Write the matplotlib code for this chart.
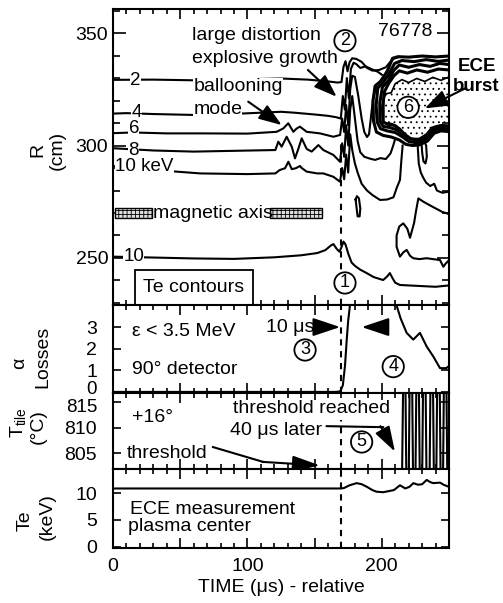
import numpy as np
import matplotlib
matplotlib.use('Agg')
import matplotlib.pyplot as plt
import matplotlib.transforms as mtransforms
from matplotlib.ticker import MultipleLocator, FixedLocator
from matplotlib.patches import Rectangle

plt.rcParams['font.family'] = ['Liberation Sans', 'DejaVu Sans']
plt.rcParams['font.size'] = 14
plt.rcParams['mathtext.fontset'] = 'custom'
plt.rcParams['mathtext.rm'] = 'Liberation Sans'
plt.rcParams['hatch.linewidth'] = 0.6
nan = np.nan

# ---- Te contours, R (cm) vs time (us) ----
c2_t = [0, 30, 60, 95, 125, 145, 160, 167, 170, 171.5, 173, 174.5, 176, 178, 181, 185, 189, 193, 198, 203, 206, 209, 213]
c2_R = [329.2, 329.3, 329.0, 329.4, 329.8, 329.3, 328.5, 328.0, 328.2, 335, 337.5, 333, 337, 338.8, 338.5, 337.2, 334.5, 333.3, 333.6, 334.8, 337.0, 338.6, 339.4]

c4_t = [0, 10, 30, 60, 95, 125, 135, 150, 160, 166, 169.5, 171, 172.5, 174, 175.5, 177, 179, 181, 184, 188, 193, 197, 200]
c4_R = [314.2, 314.4, 314.0, 313.6, 314.2, 315.0, 314.6, 313.8, 313.2, 312.6, 312.0, 322, 316, 330, 321, 334, 336.8, 336.2, 334.5, 335.2, 333.8, 332.8, 331.5]

c6_t = [0, 15, 40, 65, 100, 121.8, 126.7, 130.4, 134.2, 136.5, 139.1, 144.1, 154, 164, 169, 170.5, 172, 173.5, 175, 176.5,
        178, 180, 182.5, 185, 187, 189, 190.5, 192, 193.5, 195.5, 198]
c6_R = [305.5, 305.8, 305.4, 305.4, 305.3, 306.1, 307.6, 309.9, 306.1, 307.5, 308.4, 306.1, 305.4, 303.9, 304.7, 312, 306, 318, 309, 325,
        331, 330.5, 322, 312, 306, 303.8, 305, 313, 321, 325.5, 326.5]

c8_t = [0, 30, 60, 120.8, 123, 125.5, 129.2, 133, 135.4, 137.9, 140.4, 144.1, 147.8, 152.8, 156.5, 164, 168.9, 170.5, 172, 173.5,
        175, 176.5, 178, 180, 182, 184, 187, 191, 195, 199, 203, 206.5, 208.5, 210]
c8_R = [298.8, 297.8, 297.3, 298, 301.7, 299.5, 303.9, 299.5, 294.3, 298.5, 303.2, 298.5, 297.3, 300.2, 298, 295.8, 292.8, 301, 295, 309,
        300, 316, 322, 312, 302, 297, 295, 294.2, 293.6, 294.4, 294.0, 296.5, 300, 303]

c10_t = [0, 20, 45, 65, 100, 120.8, 124, 128, 130.5, 133, 136, 139.1, 140.4, 144.1, 152, 156.5, 164, 168.9, 170.5, 172, 173.5, 175,
         176.5, 178, 180, 182, 185, 189, 193, 198.7, 204, 208.7, 211, 213.5, 214.5, 215.5,
         nan, 226.5, 227.5, 229, 231, 233, 236, 239, 241, 245, 250]
c10_R = [290.8, 290.5, 288.5, 287.6, 287.3, 287.6, 289.1, 289.9, 292.8, 289.5, 289.9, 290.9, 290.0, 288.4, 287.6, 287.6, 286.1, 283.9, 290, 285, 296, 288,
         305, 298, 292, 288, 283, 280, 278, 275.8, 276, 277, 281, 284.7, 293, 300,
         nan, 302, 292, 288, 285.5, 283.5, 282, 283, 280, 279, 279.5]

inner_t = [250, 245, 238.3, 231, 227.2, 225.5, 224, 221, 219, 216, 213, 211, 211, 213.5, 216, 218.5, 221, 223.4, 228, 233.4, 238, 243.3, 245.8, 247.5, 250]
inner_R = [269.5, 270.5, 272.6, 275, 276.5, 271, 265.5, 259, 263, 265.4, 264, 260, 255, 250.6, 252.5, 253.6, 251, 249.9, 249.5, 249.9, 249.5, 249.1, 246.1, 247.5, 249]

loop1_t = [180.5, 181.5, 183, 184, 183.5, 182, 180.5]
loop1_R = [276, 277.5, 276.5, 272, 268.5, 268.5, 276]
loop2_t = [229.5, 230, 231, 232.5, 233.5, 233, 231.5, 229.5]
loop2_R = [301.5, 297, 293, 292, 295, 300, 302, 301.5]

low10_t = [0, 30, 60, 90, 120, 140, 152, 158, 162, 164, 166.5, 168.5, 170, 171.5, 173, 175, 177.5, 180, 184, 188.7, 194, 201, 204,
           206, 208, 210, 213.5, 220, 230, 240, 250]
low10_R = [250.6, 250.2, 249.8, 249.6, 250.3, 251.2, 252.2, 253.5, 255.5, 256.2, 254, 252.8, 254.8, 257.3, 256, 252, 248, 246.5, 244.8, 243.3, 241.5, 240.2, 241.8,
           243.3, 241, 239, 238, 237.8, 237.5, 237.2, 237.8]

# ECE burst: nested contours around the stippled region
b1_t = [250, 240, 230, 220, 212, 208, 204, 199, 195, 193.5, 193.8, 196, 201, 207, 213, 218, 223, 228, 234, 239, 244, 250]
b1_R = [339.8, 339.4, 339.8, 339.3, 339.5, 338.8, 333, 328.5, 326.5, 320, 311, 306, 304.5, 303.8, 302.5, 300.5, 300, 300.3, 302, 305.5, 306.5, 306.2]
b2_t = [250, 242, 233, 224, 215, 209.5, 205, 200.5, 197, 195.8, 196.5, 199, 204, 210, 215.5, 220, 226, 232, 238, 244, 250]
b2_R = [338, 337.4, 338.2, 337.3, 337.8, 336.5, 331.5, 327.8, 325.5, 318, 310.5, 307.5, 306.5, 305.8, 303.8, 301.8, 301.2, 302.3, 306.5, 307.2, 307]
b3_t = [250, 243, 236, 228, 220, 213, 209, 205, 200.5, 198.5, 198.5, 201, 206, 211, 216, 221, 227, 233, 238, 244, 250]
b3_R = [336, 336.5, 335.2, 336, 334.8, 335.8, 333.5, 329, 326, 319, 311, 308.5, 308, 307, 305, 303, 302.5, 303.5, 307, 308, 307.6]
b4_t = [250, 242, 234, 226, 219, 213, 209, 205, 202, 200.5, 200.8, 204, 209, 213, 217, 222, 228, 234, 239, 244, 250]
b4_R = [333.6, 334, 332.6, 333.6, 332.2, 333.2, 331, 327.5, 324, 317, 310.5, 309.5, 309, 307.5, 305, 302.8, 302.8, 305, 308, 308.8, 308.4]
st_t = [250, 244, 238, 232, 226, 220, 215, 210, 207, 203, 201.5, 201.5, 204, 207, 211, 215, 219, 223, 228, 233, 237, 241, 245, 250]
st_R = [330.5, 329, 330.3, 328.5, 329.8, 328, 329.3, 327.5, 323.5, 323, 321, 310.5, 310, 309.8, 308.8, 306, 303.5, 303, 303, 305, 308, 308.8, 309.2, 309]

# ---- alpha losses ----
alpha_t = [0, 100, 165, 169, 171, 172.6, 174, 175, 176.3, 180, 205, 211, 214, 218.5, 223.4, 228.4, 233.4, 238.3, 243.3, 248, 250]
alpha_v = [0, 0, 0, 0.02, 0.3, 1.2, 2.5, 3.3, 4.0, 4.6, 4.6, 4.0, 3.4, 2.73, 2.42, 2.73, 2.1, 1.64, 1.1, 1.1, 1.2]

# ---- tile temperature ----
tile_t = [210, 215, 216, 217.5, 218.3, 220, 220.8, 222.5, 223.3, 225, 225.8, 227.5, 228.3, 230, 230.8, 232.5, 233.3,
          235.5, 236.3, 238, 238.8, 240.5, 241.3, 243, 243.8, 245.5, 246.3, 248, 248.8, 250]
tile_v = [799, 799, 821, 821, 799, 799, 821, 821, 799, 799, 821, 821, 799, 799, 821, 821, 799,
          799, 821, 821, 799, 799, 821, 821, 799, 799, 821, 821, 799, 799]

# ---- central Te ----
te_t = [0, 50, 100, 150, 170, 172, 176, 181.3, 185, 189, 193, 196, 201, 205, 209, 213.5, 217.5, 220.5, 223.5, 227, 230,
        233.4, 236, 238.3, 243.3, 246, 250]
te_v = [10.9, 10.9, 10.9, 10.9, 10.9, 11.0, 11.5, 11.9, 11.7, 11.2, 10.6, 10.3, 10.2, 10.4, 10.6, 11.5, 10.9, 11.2, 11.9, 11.6, 11.7,
        12.5, 12.1, 11.9, 12.0, 11.6, 11.2]

t_crash = 170

W, H = 503, 603
fig = plt.figure(figsize=(W / 100, H / 100), dpi=100)


def pos(top, bot):
    return [113 / W, 1 - bot / H, 336 / W, (bot - top) / H]


ax1 = fig.add_axes(pos(9, 305))
ax2 = fig.add_axes(pos(305, 393))
ax3 = fig.add_axes(pos(393, 469))
ax4 = fig.add_axes(pos(469, 548))
axes = [ax1, ax2, ax3, ax4]

LW = 1.5
wbg = dict(fc='white', ec='none', pad=0.2)
dash = (0, (3, 2.7))


def circ(ax, x, y, s):
    ax.text(x, y, s, ha='center', va='center', fontsize=13, zorder=8,
            bbox=dict(boxstyle='circle,pad=0.12', fc='white', ec='black', lw=1.3))


def arrow(ax, x0, y0, x1, y1, hl=1.0, hw=0.36):
    ax.annotate('', xy=(x1, y1), xytext=(x0, y0), annotation_clip=False, zorder=7,
                arrowprops=dict(arrowstyle='-|>,head_length=%g,head_width=%g' % (hl, hw),
                                color='black', lw=1.5, shrinkA=0, shrinkB=0))


# ---------- top panel ----------
ax1.fill(st_t, st_R, fc='white', ec='black', hatch='...', lw=1.2, zorder=1)
for tt, rr in [(c2_t, c2_R), (c4_t, c4_R), (c6_t, c6_R), (c8_t, c8_R), (c10_t, c10_R),
               (inner_t, inner_R), (loop1_t, loop1_R), (loop2_t, loop2_R), (low10_t, low10_R)]:
    ax1.plot(tt, rr, color='black', lw=LW, zorder=3)
for tt, rr in [(b1_t, b1_R), (b2_t, b2_R), (b3_t, b3_R), (b4_t, b4_R)]:
    ax1.plot(tt, rr, color='black', lw=2.2, zorder=3)
ax1.vlines(t_crash, 229, 302, colors='black', linestyles=dash, lw=1.5, zorder=2)

for s, x, y in [('2', 16.7, 329.1), ('4', 17.5, 314.8), ('6', 15.5, 307.4), ('8', 15.5, 297.9), ('10', 15.5, 250.8)]:
    ax1.text(x, y, s, ha='center', va='center', fontsize=13.5, bbox=wbg, zorder=5)
ax1.text(1.5, 290.6, '10 keV', ha='left', va='center', fontsize=13.5, bbox=wbg, zorder=5)

ax1.add_patch(Rectangle((1.5, 267.8), 27.5, 4.4, fc='#dddddd', ec='black', hatch='++++', lw=1, zorder=4))
ax1.add_patch(Rectangle((117, 267.8), 38.5, 4.4, fc='#dddddd', ec='black', hatch='++++', lw=1, zorder=4))
ax1.text(29.5, 270, 'magnetic axis', ha='left', va='center', zorder=5)

ax1.add_patch(Rectangle((16, 229), 88, 15.7, fc='white', ec='black', lw=1.3, zorder=5))
ax1.text(60, 236.8, 'Te contours', ha='center', va='center', zorder=6)

ax1.text(58.7, 349.1, 'large distortion', ha='left', va='center', bbox=wbg, zorder=5)
ax1.text(58.7, 338.7, 'explosive growth', ha='left', va='center', bbox=wbg, zorder=5)
ax1.text(59.7, 326.1, 'ballooning', ha='left', va='center', bbox=wbg, zorder=5)
ax1.text(59.7, 315.8, 'mode', ha='left', va='center', bbox=wbg, zorder=5)
ax1.text(238, 350.6, '76778', ha='right', va='center', zorder=5)
ax1.text(270.5, 335, 'ECE', ha='center', va='center', fontweight='bold', fontsize=13.5, clip_on=False)
ax1.text(270.5, 326.1, 'burst', ha='center', va='center', fontweight='bold', fontsize=13.5, clip_on=False)

arrow(ax1, 100.6, 319.5, 125.5, 309.1)
arrow(ax1, 145, 333.6, 166.4, 321.7)
arrow(ax1, 262, 325.4, 232, 316.5)

circ(ax1, 172.6, 346.6, '2')
circ(ax1, 172.6, 238.9, '1')
circ(ax1, 219.6, 317, '6')

# ---------- alpha losses ----------
ax2.plot(alpha_t, alpha_v, color='black', lw=LW, zorder=3)
ax2.vlines(t_crash, -0.05, 4.02, colors='black', linestyles=dash, lw=1.5, zorder=2)
ax2.text(14, 2.8, 'ε < 3.5 MeV', ha='left', va='center')
ax2.text(14, 1.03, '90° detector', ha='left', va='center')
ax2.text(114, 2.98, '10 μs', ha='left', va='center')
arrow(ax2, 156, 3.0, 169, 3.0, hl=1.2, hw=0.4)
arrow(ax2, 200, 3.0, 185, 3.0, hl=1.2, hw=0.4)
circ(ax2, 142.9, 1.94, '3')
circ(ax2, 208.5, 1.17, '4')

# ---------- tile temperature ----------
ax3.plot(tile_t, tile_v, color='black', lw=LW, zorder=3)
ax3.vlines(t_crash, 801.9, 811.5, colors='black', linestyles=dash, lw=1.5, zorder=2)
ax3.text(14, 811.9, '+16°', ha='left', va='center')
ax3.text(148, 813.8, 'threshold reached', ha='center', va='center', bbox=wbg, zorder=5)
ax3.text(87, 809.4, '40 μs later', ha='left', va='center', bbox=wbg, zorder=5)
ax3.plot([159, 201], [810.3, 810.1], color='black', lw=1.5, zorder=6)
arrow(ax3, 199, 810.3, 209.8, 805.3, hl=1.1, hw=0.35)
ax3.text(10.4, 805.0, 'threshold', ha='left', va='center')
ax3.plot([74.4, 111.6], [806.2, 803.3], color='black', lw=1.5, zorder=6)
arrow(ax3, 111, 803.3, 154, 802.6, hl=1.2, hw=0.35)
circ(ax3, 185, 807.2, '5')

# ---------- central Te ----------
ax4.plot(te_t, te_v, color='black', lw=LW, zorder=3)
ax4.vlines(t_crash, -0.25, 14.55, colors='black', linestyles=dash, lw=1.5, zorder=2)
ax4.text(12.6, 6.9, 'ECE measurement', ha='left', va='center')
ax4.text(11, 3.8, 'plasma center', ha='left', va='center')

# ---------- axes ----------
ax1.set_ylim(229.1, 360.7)
ax2.set_ylim(-0.05, 4.02)
ax3.set_ylim(801.9, 816.8)
ax4.set_ylim(-0.25, 14.55)
ax1.yaxis.set_major_locator(MultipleLocator(50))
ax1.yaxis.set_minor_locator(MultipleLocator(10))
ax2.yaxis.set_major_locator(FixedLocator([0, 1, 2, 3]))
ax3.yaxis.set_major_locator(FixedLocator([805, 810, 815]))
ax4.yaxis.set_major_locator(FixedLocator([0, 5, 10]))

for ax in axes:
    ax.set_xlim(0, 250)
    ax.xaxis.set_major_locator(MultipleLocator(50))
    ax.xaxis.set_minor_locator(MultipleLocator(10))
    ax.tick_params(which='both', direction='in', top=True, right=True, width=1.2)
    ax.tick_params(axis='x', which='major', length=7)
    ax.tick_params(axis='x', which='minor', length=3.5)
    for sp in ax.spines.values():
        sp.set_linewidth(LW)
    if ax is not ax4:
        ax.set_xticklabels([])
ax1.tick_params(axis='y', which='major', length=9, pad=3.5)
ax1.tick_params(axis='y', which='minor', length=5)
for ax in (ax2, ax3, ax4):
    ax.tick_params(axis='y', which='major', length=6, pad=11.5)

ax4.set_xticks([0, 50, 100, 150, 200, 250])
ax4.set_xticklabels(['0', '', '100', '', '200', ''])
ax4.tick_params(axis='x', which='major', pad=7)
ax4.set_xlabel('TIME (μs) - relative', labelpad=3)

# the "0" of the alpha panel and the "815" of the tile panel sit close together
fig.canvas.draw()
up = mtransforms.ScaledTranslation(0, 4 / 100, fig.dpi_scale_trans)
down = mtransforms.ScaledTranslation(0, -3 / 100, fig.dpi_scale_trans)
for lab in ax2.get_yticklabels():
    if lab.get_text() == '0':
        lab.set_fontsize(13.5)
        lab.set_transform(lab.get_transform() + up)
for lab in ax3.get_yticklabels():
    if lab.get_text() == '815':
        lab.set_fontsize(13.5)
        lab.set_transform(lab.get_transform() + down)


def ftext(x, y, s, **kw):
    fig.text(x / W, 1 - y / H, s, rotation=90, ha='center', va='center', **kw)


ftext(38, 150, 'R')
ftext(57, 150, '(cm)')
ftext(20, 363, 'α')
ftext(43, 357, 'Losses')
ftext(19, 423, r'T$_{\rm tile}$')
ftext(38, 427, '(°C)')
ftext(25, 521, 'Te')
ftext(47, 517, '(keV)')

fig.savefig('out.png', dpi=100)
